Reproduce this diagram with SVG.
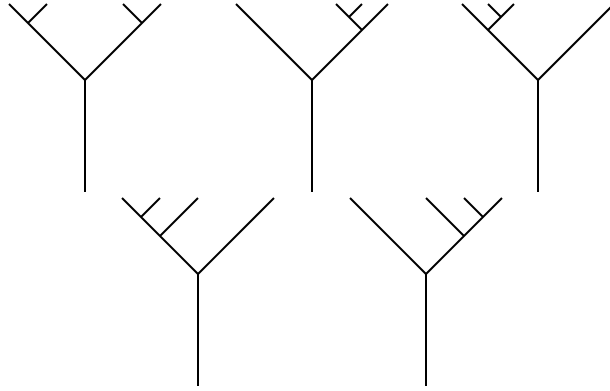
<svg xmlns="http://www.w3.org/2000/svg" width="610" height="391" viewBox="0 0 610 391">
<style>
.t{fill:none;stroke:#000;stroke-width:2;stroke-linecap:butt;stroke-linejoin:miter}
</style>
<rect width="610" height="391" fill="#fff"/>
<g id="tree1" class="t">
<path d="M85,192V80M9,4L85,80L161,4M28,23L47,4M142,23L123,4"/>
</g>
<g id="tree2" class="t">
<path d="M312,192V80M236,4L312,80L388,4M362,30L336,4M349,17L362,4"/>
</g>
<g id="tree3" class="t">
<path d="M538,192V80M462,4L538,80L614,4M488,30L514,4M501,17L488,4"/>
</g>
<g id="tree4" class="t">
<path d="M198,386V274M122,198L198,274L274,198M160,236L198,198M141,217L160,198"/>
</g>
<g id="tree5" class="t">
<path d="M426,386V274M350,198L426,274L502,198M464,236L426,198M483,217L464,198"/>
</g>
</svg>
